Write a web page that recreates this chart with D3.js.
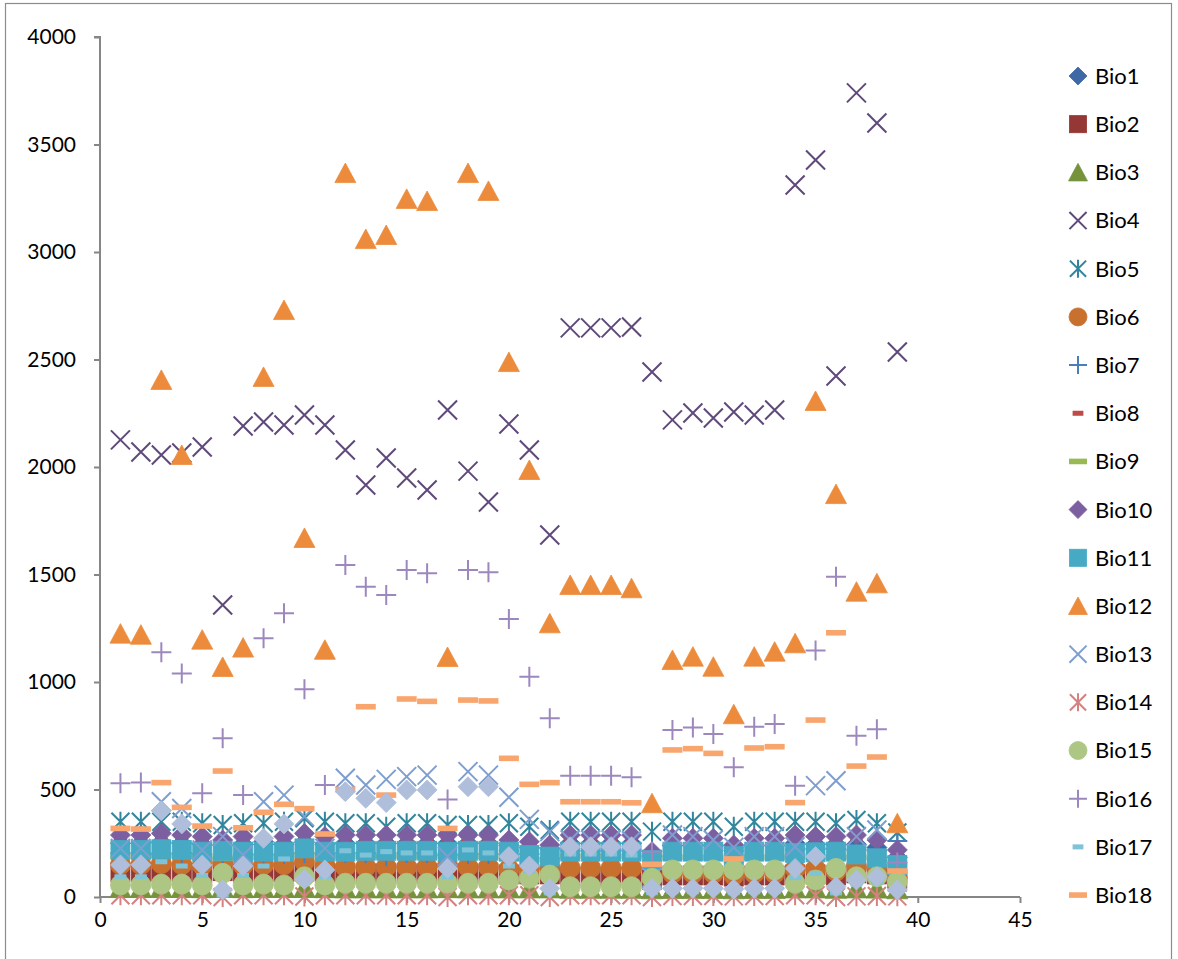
<!DOCTYPE html>
<html>
<head>
<meta charset="utf-8">
<script src="https://cdn.jsdelivr.net/npm/d3@7"></script>
<style>
  html, body { margin: 0; padding: 0; background: #fff; }
  svg { display: block; }
  text { font-family: Lato, "Open Sans", sans-serif; fill: #000; }
</style>
</head>
<body>
<svg id="chart" width="1178" height="959"></svg>
<script>
// ---------------- data ----------------
const xs = d3.range(1, 40);
const seriesNames = ["Bio1","Bio2","Bio3","Bio4","Bio5","Bio6","Bio7","Bio8","Bio9","Bio10",
                     "Bio11","Bio12","Bio13","Bio14","Bio15","Bio16","Bio17","Bio18","Bio19"];
const xTicks = [0,5,10,15,20,25,30,35,40,45];
const yTicks = [0,500,1000,1500,2000,2500,3000,3500,4000];

const bio1  = [250,250,255,250,245,240,245,245,245,255,245,250,250,250,250,250,250,250,250,240,230,225,250,250,250,250,190,240,240,240,215,240,240,250,245,245,245,230,185];
const bio2  = [115,115,118,115,112,120,112,115,115,118,112,110,110,110,110,110,112,110,110,105,105,105,95,95,95,95,80,100,100,100,95,100,100,105,105,100,110,105,85];
const bio3  = [42,42,44,42,41,45,41,42,42,44,41,40,40,40,40,40,41,40,40,40,40,40,38,38,38,38,36,37,37,37,36,37,37,40,40,38,40,39,36];
const bio4  = [2126,2070,2056,2065,2093,1358,2191,2209,2195,2242,2195,2079,1916,2042,1949,1893,2265,1981,1837,2200,2079,1684,2647,2647,2647,2651,2442,2219,2251,2228,2256,2242,2265,3312,3428,2423,3740,3600,2535];
const bio5  = [350,350,350,350,343,335,343,343,350,366,350,343,343,327,343,343,335,335,335,343,327,312,350,350,350,350,304,350,350,350,327,350,350,350,350,343,358,343,300];
const bio6  = [150,150,155,150,148,160,148,150,150,165,148,140,140,140,140,140,148,140,140,130,130,135,135,135,135,135,90,110,110,110,100,110,110,130,130,120,140,130,90];
const bio7  = [205,205,200,205,200,180,200,198,200,205,200,205,205,190,205,205,195,200,200,215,200,180,215,215,215,215,215,240,240,240,230,240,240,220,225,225,220,215,260];
const bio8  = [270,270,275,270,265,250,265,265,265,275,265,270,270,270,270,270,270,270,270,260,250,240,270,270,270,270,200,255,255,255,225,255,255,270,265,265,270,250,200];
const bio9  = [190,190,195,190,185,180,185,185,185,195,185,190,190,190,190,190,190,190,190,180,175,170,190,190,190,190,160,185,185,185,170,185,185,190,185,185,185,175,150];
const bio10 = [288,288,296,288,281,265,281,257,281,296,281,288,288,288,288,288,288,288,288,265,257,242,288,288,288,288,211,273,273,273,242,273,273,288,281,281,288,265,219];
const bio11 = [219,219,222,219,211,215,211,211,211,226,211,211,215,215,215,215,211,215,215,211,195,188,211,211,211,211,172,211,211,211,190,211,211,205,208,211,198,180,149];
const bio12 = [1225,1220,2405,2056,1197,1070,1160,2419,2730,1670,1150,3367,3060,3079,3247,3237,1116,3367,3284,2488,1986,1273,1451,1451,1451,1436,436,1102,1118,1071,850,1118,1141,1180,2307,1874,1420,1459,343];
const bio13 = [226,226,443,412,219,281,195,443,474,374,226,552,521,547,560,567,188,583,567,464,361,304,265,265,265,262,90,288,281,265,231,281,281,234,518,541,281,312,70];
const bio14 = [8,8,8,8,8,0,8,8,8,2,8,8,8,8,8,8,0,8,8,8,8,0,8,8,8,8,0,5,5,5,3,5,5,8,8,0,3,5,3];
const bio15 = [56,56,60,60,56,110,56,60,56,94,56,64,64,64,64,64,64,64,64,79,87,102,48,48,48,48,87,126,126,126,126,126,126,64,79,133,94,94,71];
const bio16 = [529,532,1138,1040,482,738,474,1203,1320,966,521,1544,1443,1405,1521,1506,454,1521,1510,1293,1025,831,564,564,564,557,211,777,788,758,603,792,805,518,1146,1490,750,780,160];
const bio17 = [94,94,164,144,100,9,100,144,177,90,94,215,195,211,205,205,94,219,205,144,120,19,200,200,200,195,20,25,25,25,20,25,25,90,110,19,60,70,40];
const bio18 = [319,316,532,417,330,586,322,394,431,411,293,500,885,474,921,910,319,916,912,645,524,532,443,443,443,438,152,684,690,668,177,693,699,439,823,1229,609,651,121];
const bio19 = [149,150,401,340,149,33,144,273,340,82,126,490,459,439,498,498,133,513,513,188,144,40,234,234,234,234,40,40,40,40,36,40,40,133,188,48,79,94,33];

const seriesValues = [bio1,bio2,bio3,bio4,bio5,bio6,bio7,bio8,bio9,bio10,bio11,bio12,bio13,bio14,bio15,bio16,bio17,bio18,bio19];
const legendCount = 18; // legend in the reference shows Bio1..Bio18

// ---------------- styles ----------------
const markerShapes = ["diamond","square","triangle","x","star","circle","plus","shortdash","longdash",
                      "diamond","square","triangle","x","star","circle","plus","shortdash","longdash","diamond"];
const colors = ["#3E69A5","#953735","#76933C","#5F497A","#31859C","#C8702E","#4A7EBB","#BE4B48","#98B954",
                "#7C5FA0","#46AAC5","#EC8B3C","#7E9ED0","#D48180","#ADC683","#9D88BE","#7FC3D9","#F9A66E","#AFBEDB"];

// ---------------- layout ----------------
const svg = d3.select("#chart");
const x = d3.scaleLinear().domain([0, 45]).range([100, 1020]);
const y = d3.scaleLinear().domain([0, 4000]).range([897, 37]);

// chart-area border
svg.append("rect").attr("x", 5.5).attr("y", 3.5).attr("width", 1166).attr("height", 970)
  .attr("fill", "none").attr("stroke", "#8c8c8c").attr("stroke-width", 1.2);

// axes
const axisColor = "#868686";
const yAxis = svg.append("g").attr("transform", `translate(${x(0)},0)`)
  .call(d3.axisLeft(y).tickValues(yTicks).tickSize(6).tickPadding(18).tickFormat(d3.format("d")));
const xAxis = svg.append("g").attr("transform", `translate(0,${y(0)})`)
  .call(d3.axisBottom(x).tickValues(xTicks).tickSize(6).tickPadding(9).tickFormat(d3.format("d")));
[yAxis, xAxis].forEach(g => {
  g.select(".domain").attr("stroke", axisColor).attr("stroke-width", 2);
  g.selectAll(".tick line").attr("stroke", axisColor).attr("stroke-width", 2);
  g.selectAll(".tick text").attr("font-size", 21).attr("font-family", "Lato, 'Open Sans', sans-serif").attr("fill", "#000");
});
yAxis.select(".domain").attr("d", `M-6,${y(4000)}H0V${y(0)}`);
xAxis.select(".domain").attr("d", `M${x(0)},0H${x(45)}`);

// marker drawing
function drawMarker(g, shape, color, s) {
  // s: half size
  switch (shape) {
    case "diamond":
      g.append("path").attr("d", `M0,${-s}L${s},0L0,${s}L${-s},0Z`).attr("fill", color).attr("stroke", color).attr("stroke-width", 0.8);
      break;
    case "square":
      g.append("rect").attr("x", -s*0.95).attr("y", -s*0.95).attr("width", 1.9*s).attr("height", 1.9*s).attr("fill", color).attr("stroke", color).attr("stroke-width", 0.8);
      break;
    case "triangle":
      g.append("path").attr("d", `M0,${-s}L${s*1.05},${s*0.95}L${-s*1.05},${s*0.95}Z`).attr("fill", color).attr("stroke", color).attr("stroke-width", 0.8);
      break;
    case "x":
      g.append("path").attr("d", `M${-s*0.95},${-s*0.95}L${s*0.95},${s*0.95}M${-s*0.95},${s*0.95}L${s*0.95},${-s*0.95}`).attr("stroke", color).attr("stroke-width", 2).attr("fill", "none");
      break;
    case "star":
      g.append("path").attr("d", `M${-s*0.9},${-s*0.9}L${s*0.9},${s*0.9}M${-s*0.9},${s*0.9}L${s*0.9},${-s*0.9}M0,${-s}L0,${s}`).attr("stroke", color).attr("stroke-width", 2).attr("fill", "none");
      break;
    case "circle":
      g.append("circle").attr("r", s).attr("fill", color).attr("stroke", color).attr("stroke-width", 0.8);
      break;
    case "plus":
      g.append("path").attr("d", `M${-s},0L${s},0M0,${-s}L0,${s}`).attr("stroke", color).attr("stroke-width", 2).attr("fill", "none");
      break;
    case "shortdash":
      g.append("rect").attr("x", -s*0.6).attr("y", -2.5).attr("width", 1.2*s).attr("height", 5).attr("fill", color);
      break;
    case "longdash":
      g.append("rect").attr("x", -s).attr("y", -2.8).attr("width", 2*s).attr("height", 5.6).attr("fill", color);
      break;
  }
}

// plot all series in order (later series on top)
const plot = svg.append("g");
seriesValues.forEach((vals, si) => {
  const sg = plot.append("g").attr("class", "series-" + seriesNames[si]);
  xs.forEach((xv, i) => {
    const g = sg.append("g").attr("transform", `translate(${x(xv)},${y(vals[i])})`);
    drawMarker(g, markerShapes[si], colors[si], 10);
  });
});

// legend
const legend = svg.append("g");
const legendTop = 76, legendStep = 48.18;
for (let i = 0; i < legendCount; i++) {
  const ly = legendTop + i * legendStep;
  const g = legend.append("g").attr("transform", `translate(1078,${ly})`);
  drawMarker(g, markerShapes[i], colors[i], 9);
  legend.append("text").attr("x", 1095).attr("y", ly).attr("dy", "0.36em")
    .attr("font-size", 22).text(seriesNames[i]);
}
</script>
</body>
</html>
